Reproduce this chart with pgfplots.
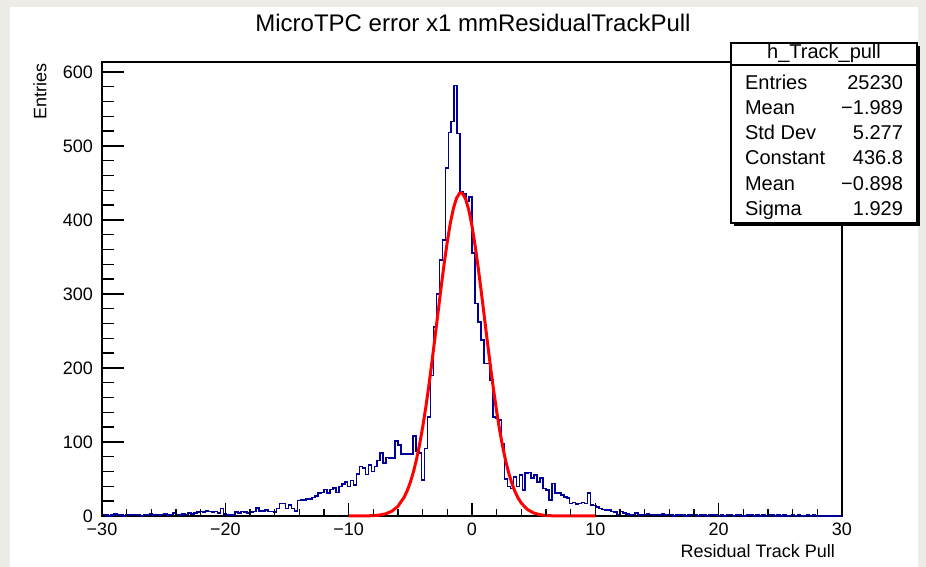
\documentclass[border=0pt]{standalone}
\usepackage{pgfplots}
\pgfplotsset{compat=1.18}
\usepackage{fontspec}
\setmainfont{Liberation Sans}
\definecolor{beige}{RGB}{238,236,231}
\definecolor{histblue}{RGB}{0,0,153}
\begin{document}
\begin{tikzpicture}[x=1pt,y=1pt]
\fill[beige] (0,0) rectangle (463,283.5);
\fill[white] (5,0) rectangle (459,280);
% main axis: data, frame, y ticks
\begin{axis}[
  at={(51pt,25.5pt)}, anchor=south west, scale only axis,
  width=370pt, height=227pt,
  xmin=-30, xmax=30, ymin=0, ymax=613.5,
  xtick=\empty,
  ytick={0,100,200,300,400,500,600}, minor y tick num=4,
  ytick pos=left, tick align=inside,
  major tick length=11pt, minor tick length=6.2pt,
  axis line style={line width=0.8pt},
  every tick/.style={black, line width=0.7pt},
  yticklabel style={font=\fontsize{9}{10}\selectfont, xshift=-1pt},
  /pgf/number format/assume math mode=true,
  clip=false,
]
\addplot[const plot, color=histblue, line width=0.8pt] table[row sep=\\] {
x y\\
-30.00 2\\ -29.76 1\\ -29.52 0\\ -29.28 1\\ -29.04 3\\ -28.80 1\\ -28.56 1\\ -28.32 0\\ -28.08 2\\ -27.84 1\\
-27.60 1\\ -27.36 2\\ -27.12 1\\ -26.88 0\\ -26.64 2\\ -26.40 1\\ -26.16 3\\ -25.92 1\\ -25.68 2\\ -25.44 1\\
-25.20 2\\ -24.96 3\\ -24.72 1\\ -24.48 2\\ -24.24 4\\ -24.00 2\\ -23.76 1\\ -23.52 3\\ -23.28 2\\ -23.04 4\\
-22.80 3\\ -22.56 4\\ -22.32 5\\ -22.08 6\\ -21.84 5\\ -21.60 7\\ -21.36 6\\ -21.12 5\\ -20.88 6\\ -20.64 4\\
-20.40 10\\ -20.16 3\\ -19.92 1\\ -19.68 1\\ -19.44 1\\ -19.20 5\\ -18.96 4\\ -18.72 6\\ -18.48 5\\ -18.24 4\\
-18.00 5\\ -17.76 6\\ -17.52 11\\ -17.28 7\\ -17.04 7\\ -16.80 8\\ -16.56 6\\ -16.32 6\\ -16.08 5\\ -15.84 10\\
-15.60 17\\ -15.36 17\\ -15.12 10\\ -14.88 15\\ -14.64 10\\ -14.40 7\\ -14.16 21\\ -13.92 22\\ -13.68 22\\ -13.44 23\\
-13.20 23\\ -12.96 25\\ -12.72 27\\ -12.48 31\\ -12.24 32\\ -12.00 36\\ -11.76 31\\ -11.52 36\\ -11.28 38\\ -11.04 32\\
-10.80 40\\ -10.56 43\\ -10.32 46\\ -10.08 40\\ -9.84 48\\ -9.60 42\\ -9.36 57\\ -9.12 67\\ -8.88 65\\ -8.64 56\\
-8.40 69\\ -8.16 60\\ -7.92 67\\ -7.68 75\\ -7.44 85\\ -7.20 72\\ -6.96 79\\ -6.72 78\\ -6.48 78\\ -6.24 101\\
-6.00 96\\ -5.76 84\\ -5.52 84\\ -5.28 84\\ -5.04 84\\ -4.80 108\\ -4.56 88\\ -4.32 85\\ -4.08 49\\ -3.84 91\\
-3.60 134\\ -3.36 190\\ -3.12 255\\ -2.88 300\\ -2.64 346\\ -2.40 373\\ -2.16 470\\ -1.92 518\\ -1.68 533\\ -1.44 582\\
-1.20 517\\ -0.96 438\\ -0.72 435\\ -0.48 425\\ -0.24 431\\ 0.00 355\\ 0.24 287\\ 0.48 262\\ 0.72 238\\ 0.96 206\\
1.20 206\\ 1.44 184\\ 1.68 134\\ 1.92 132\\ 2.16 130\\ 2.40 98\\ 2.64 50\\ 2.88 40\\ 3.12 37\\ 3.36 53\\
3.60 40\\ 3.84 55\\ 4.08 35\\ 4.32 58\\ 4.56 59\\ 4.80 51\\ 5.04 55\\ 5.28 46\\ 5.52 51\\ 5.76 37\\
6.00 35\\ 6.24 22\\ 6.48 44\\ 6.72 31\\ 6.96 31\\ 7.20 28\\ 7.44 26\\ 7.68 24\\ 7.92 17\\ 8.16 18\\
8.40 16\\ 8.64 17\\ 8.88 18\\ 9.12 17\\ 9.36 31\\ 9.60 15\\ 9.84 14\\ 10.08 12\\ 10.32 10\\ 10.56 9\\
10.80 8\\ 11.04 8\\ 11.28 6\\ 11.52 5\\ 11.76 2\\ 12.00 6\\ 12.24 4\\ 12.48 3\\ 12.72 1\\ 12.96 2\\
13.20 4\\ 13.44 1\\ 13.68 2\\ 13.92 1\\ 14.16 3\\ 14.40 2\\ 14.64 1\\ 14.88 2\\ 15.12 1\\ 15.36 3\\
15.60 1\\ 15.84 2\\ 16.08 1\\ 16.32 0\\ 16.56 1\\ 16.80 2\\ 17.04 1\\ 17.28 0\\ 17.52 1\\ 17.76 1\\
18.00 2\\ 18.24 0\\ 18.48 1\\ 18.72 1\\ 18.96 0\\ 19.20 2\\ 19.44 1\\ 19.68 1\\ 19.92 0\\ 20.16 1\\
20.40 0\\ 20.64 1\\ 20.88 2\\ 21.12 0\\ 21.36 1\\ 21.60 1\\ 21.84 0\\ 22.08 0\\ 22.32 1\\ 22.56 2\\
22.80 0\\ 23.04 1\\ 23.28 0\\ 23.52 1\\ 23.76 0\\ 24.00 1\\ 24.24 1\\ 24.48 0\\ 24.72 1\\ 24.96 0\\
25.20 1\\ 25.44 0\\ 25.68 0\\ 25.92 1\\ 26.16 0\\ 26.40 1\\ 26.64 0\\ 26.88 0\\ 27.12 1\\ 27.36 0\\
27.60 1\\ 27.84 0\\ 28.08 0\\ 28.32 0\\ 28.56 0\\ 28.80 0\\ 29.04 0\\ 29.28 0\\ 29.52 0\\ 29.76 0\\
30.00 0\\
};
\addplot[color=red, line width=1.5pt] table[row sep=\\] {
x y\\
-10 0.01\\ -9.5 0.02\\ -9 0.06\\ -8.5 0.19\\ -8 0.50\\ -7.5 1.25\\ -7 2.93\\ -6.5 6.44\\ -6 13.2\\ -5.5 25.4\\
-5.25 34.3\\ -5 45.5\\ -4.75 59.5\\ -4.5 76.4\\ -4.25 96.5\\ -4 119.9\\ -3.75 146.4\\ -3.5 175.9\\ -3.25 207.7\\ -3 241.3\\
-2.75 275.5\\ -2.5 309.4\\ -2.25 341.7\\ -2 371.0\\ -1.75 396.2\\ -1.5 416.1\\ -1.25 429.6\\ -1 436.2\\ -0.9 436.8\\ -0.75 435.5\\
-0.5 427.6\\ -0.25 412.8\\ 0 391.9\\ 0.25 365.9\\ 0.5 335.9\\ 0.75 303.3\\ 1 269.2\\ 1.25 235.0\\ 1.5 201.7\\ 1.75 170.3\\
2 141.3\\ 2.25 115.3\\ 2.5 92.5\\ 2.75 73.1\\ 3 56.7\\ 3.25 43.3\\ 3.5 32.5\\ 3.75 24.0\\ 4 17.4\\ 4.5 8.71\\
5 4.07\\ 5.5 1.79\\ 6 0.73\\ 6.5 0.28\\ 7 0.10\\ 7.5 0.03\\ 8 0.01\\ 9 0\\ 10 0\\
};
\end{axis}
% second axis: x ticks only
\begin{axis}[
  at={(51pt,25.5pt)}, anchor=south west, scale only axis,
  width=370pt, height=227pt,
  xmin=-30, xmax=30, ymin=0, ymax=613.5,
  axis line style={draw=none},
  ytick=\empty,
  xtick={-30,-20,-10,0,10,20,30}, minor x tick num=4,
  xticklabels={−30,−20,−10,0,10,20,30},
  xtick pos=left, tick align=inside,
  major tick length=6.5pt, minor tick length=3.5pt,
  every tick/.style={black, line width=0.7pt},
  xticklabel style={font=\fontsize{9}{10}\selectfont, yshift=0pt},
]
\end{axis}
% title and axis labels
\node[anchor=base, font=\fontsize{12}{14}\selectfont] at (236.5,267.5) {MicroTPC error x1 mmResidualTrackPull};
\node[anchor=east, rotate=90, font=\fontsize{9}{10}\selectfont] at (20,255.5) {Entries};
\node[anchor=base east, font=\fontsize{9}{10}\selectfont] at (421,4.5) {Residual Track Pull};
% stats box
\fill[black] (367,170.5) rectangle (460,260.5);
\filldraw[fill=white, draw=black, line width=0.6pt] (365.5,172) rectangle (458.5,262);
\draw[line width=0.6pt] (365.5,251) -- (458.5,251);
\node[anchor=base, font=\fontsize{10}{12}\selectfont] at (412,254) {h\_Track\_pull};
\begin{scope}[font=\fontsize{10}{12}\selectfont]
\node[anchor=base west] at (369,238.5) {Entries};
\node[anchor=base east] at (455,238.5) {25230};
\node[anchor=base west] at (369,226) {Mean};
\node[anchor=base east] at (455,226) {−1.989};
\node[anchor=base west] at (369,213.5) {Std Dev};
\node[anchor=base east] at (455,213.5) {5.277};
\node[anchor=base west] at (369,201) {Constant};
\node[anchor=base east] at (455,201) {436.8};
\node[anchor=base west] at (369,188.25) {Mean};
\node[anchor=base east] at (455,188.25) {−0.898};
\node[anchor=base west] at (369,175.75) {Sigma};
\node[anchor=base east] at (455,175.75) {1.929};
\end{scope}
\end{tikzpicture}
\end{document}
